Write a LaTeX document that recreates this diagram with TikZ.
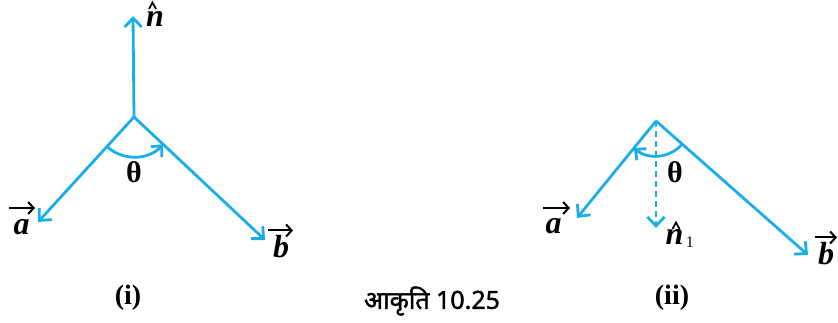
\documentclass[tikz,border=0pt]{standalone}
\usepackage{fontspec}
\setmainfont{Liberation Serif}
\newfontfamily\devfont[Script=Devanagari,FakeBold=1.6]{Noto Sans}
\usepackage{tikz}
\usetikzlibrary{arrows.meta,positioning,calc}
\definecolor{vecblue}{HTML}{1AAEE8}
\tikzset{
  vecline/.style={
    draw=vecblue, line width=2.8pt,
    -{Straight Barb[length=9pt,width=17pt,line width=2.8pt]}
  },
  anglearc/.style={
    draw=vecblue, line width=2.8pt,
    -{Straight Barb[length=8pt,width=15pt,line width=2.8pt]}
  },
  vecmark/.style={
    draw=black, line width=2pt,
    -{Straight Barb[length=5.5pt,width=12pt,line width=2pt]}
  },
  hatmark/.style={
    draw=black, line width=1.7pt, line join=miter
  },
  veclabel/.style={
    font=\fontsize{32}{34}\selectfont\bfseries\itshape, inner sep=0pt
  },
  anglelabel/.style={
    font=\fontsize{30}{32}\selectfont\bfseries, inner sep=1pt
  },
  caplabel/.style={
    font=\fontsize{28}{30}\selectfont\bfseries, inner sep=1pt
  },
}

\begin{document}
\begin{tikzpicture}[x=1pt, y=1pt]
  \useasboundingbox (0,0) rectangle (838,323);

  % Figure (i)
  \coordinate (o1) at (134,206);
  \coordinate (n1tip) at (133,307);
  \coordinate (a1tip) at (38,101);
  \coordinate (b1tip) at (265,83);
  \draw[vecline] (o1) -- (n1tip);
  \draw[vecline] (o1) -- (a1tip);
  \draw[vecline] (o1) -- (b1tip);
  \draw[anglearc] ($(o1)+(227.6:40)$) arc[start angle=227.6, end angle=316.8, radius=40];
  \node[veclabel] (n1lbl) at (155,304) {n};
  \draw[hatmark] ($(n1lbl)+(-6,10)$) -- ++(3.5,6.5) -- ++(3.5,-6.5);
  \node[veclabel] (a1lbl) at (21.5,96) {a};
  \draw[vecmark] ($(a1lbl)+(-12.5,19)$) -- ++(26,0);
  \node[veclabel] (b1lbl) at (281,76.5) {b};
  \draw[vecmark] ($(b1lbl)+(-13,16)$) -- ++(25,0);
  \node[anglelabel] (th1) at (134,151) {θ};
  \node[caplabel] (cap1) at (128,25) {(i)};

  % Figure (ii)
  \coordinate (o2) at (656,202);
  \coordinate (n2tip) at (656,95);
  \coordinate (a2tip) at (577,105);
  \coordinate (b2tip) at (808,68);
  \draw[vecline, dash pattern=on 6pt off 4pt] (o2) -- (n2tip);
  \draw[vecline] (o2) -- (a2tip);
  \draw[vecline] (o2) -- (b2tip);
  \draw[anglearc] ($(o2)+(318.6:35)$) arc[start angle=318.6, end angle=230.8, radius=35];
  \node[veclabel] (n2lbl) at (674.5,86) {n};
  \draw[hatmark] ($(n2lbl)+(-2,8)$) -- ++(3.5,6.5) -- ++(3.5,-6.5);
  \node[font=\fontsize{16}{18}\selectfont, inner sep=0pt, anchor=south west] (n2sub) at ($(n2lbl.south east)+(2,-3)$) {1};
  \node[veclabel] (a2lbl) at (553.5,96.5) {a};
  \draw[vecmark] ($(a2lbl)+(-10.5,18.5)$) -- ++(27,0);
  \node[veclabel] (b2lbl) at (826,69.5) {b};
  \draw[vecmark] ($(b2lbl)+(-11,16)$) -- ++(22,0);
  \node[anglelabel] (th2) at (675,151) {θ};
  \node[caplabel] (cap2) at (672,25) {(ii)};

  % Caption
  \node[font=\fontsize{25}{28}\selectfont\devfont, inner sep=1pt] (figcap) at (432,22) {आकृति 10.25};
\end{tikzpicture}
\end{document}
